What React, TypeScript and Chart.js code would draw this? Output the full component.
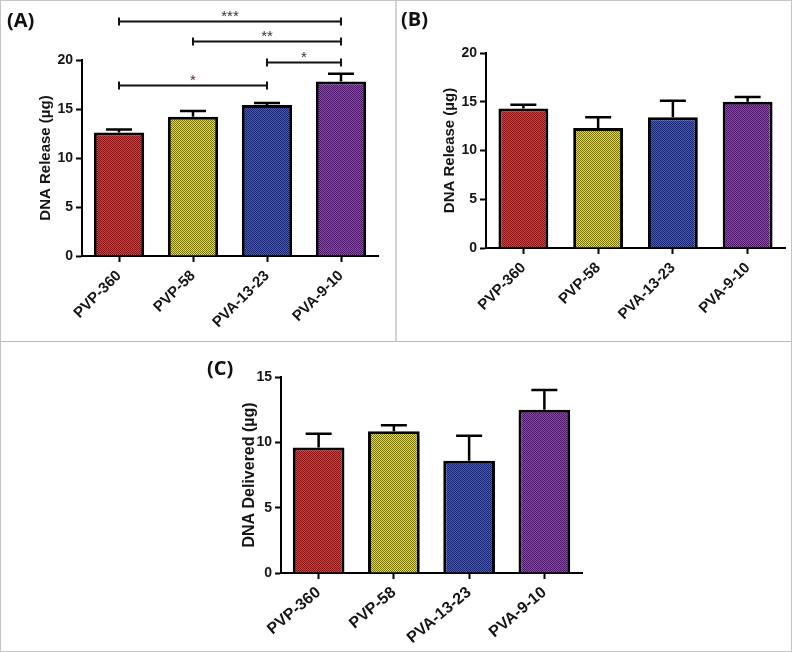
import React, { useEffect, useRef } from "react";
import { Chart, registerables } from "chart.js";

Chart.register(...registerables);

const categories = ["PVP-360", "PVP-58", "PVA-13-23", "PVA-9-10"];
const releaseA = [12.6, 14.2, 15.4, 17.8];
const errorA = [0.3, 0.6, 0.2, 0.8];
const releaseB = [14.3, 12.3, 13.4, 15.0];
const errorB = [0.4, 1.1, 1.7, 0.5];
const deliveredC = [9.6, 10.85, 8.6, 12.5];
const errorC = [1.05, 0.45, 1.9, 1.5];
const yTicksAB = [0, 5, 10, 15, 20];
const yTicksC = [0, 5, 10, 15];
const bracketFrom = [0, 1, 2, 0];
const bracketTo = [3, 3, 3, 2];
const bracketLevel = [24, 21.9, 19.8, 17.4];
const bracketLabels = ["***", "**", "*", "*"];
const bracketLabelColors = ["#333333", "#333333", "#333333", "#6b2a2a"];
const barLight = ["#d84242", "#e2da4a", "#4a5cbc", "#9048b2"];
const barDark = ["#7a1616", "#767016", "#1a2466", "#461a5e"];

const FONT = "'Liberation Sans', Arial, sans-serif";

function checker(ctx: CanvasRenderingContext2D, light: string, dark: string) {
  const c = document.createElement("canvas");
  c.width = 2;
  c.height = 2;
  const g = c.getContext("2d")!;
  g.fillStyle = light;
  g.fillRect(0, 0, 2, 2);
  g.fillStyle = dark;
  g.fillRect(0, 0, 1, 1);
  g.fillRect(1, 1, 1, 1);
  return ctx.createPattern(c, "repeat");
}

function errorBarPlugin(errors: number[]) {
  return {
    id: "errorBars",
    afterDatasetsDraw(chart: any) {
      const meta = chart.getDatasetMeta(0);
      const y = chart.scales.y;
      const ctx = chart.ctx;
      const data = chart.data.datasets[0].data as number[];
      ctx.save();
      ctx.strokeStyle = "#000";
      ctx.lineWidth = 2.5;
      meta.data.forEach((bar: any, i: number) => {
        const top = y.getPixelForValue(data[i] + errors[i]);
        ctx.beginPath();
        ctx.moveTo(bar.x, bar.y);
        ctx.lineTo(bar.x, top);
        ctx.moveTo(bar.x - 13, top);
        ctx.lineTo(bar.x + 13, top);
        ctx.stroke();
      });
      ctx.restore();
    },
  };
}

const bracketPlugin = {
  id: "brackets",
  afterDraw(chart: any) {
    const x = chart.scales.x;
    const y = chart.scales.y;
    const ctx = chart.ctx;
    ctx.save();
    bracketLevel.forEach((lv, i) => {
      const x1 = x.getPixelForValue(bracketFrom[i]);
      const x2 = x.getPixelForValue(bracketTo[i]);
      const py = Math.round(y.getPixelForValue(lv)) + 0.5;
      ctx.strokeStyle = "#111";
      ctx.lineWidth = 2;
      ctx.beginPath();
      ctx.moveTo(x1, py);
      ctx.lineTo(x2, py);
      ctx.moveTo(x1, py - 4);
      ctx.lineTo(x1, py + 4);
      ctx.moveTo(x2, py - 4);
      ctx.lineTo(x2, py + 4);
      ctx.stroke();
      ctx.fillStyle = bracketLabelColors[i];
      ctx.font = `15px ${FONT}`;
      ctx.textAlign = "center";
      ctx.textBaseline = "alphabetic";
      ctx.fillText(bracketLabels[i], (x1 + x2) / 2, py - 1);
    });
    ctx.restore();
  },
};

type Geo = {
  w: number;
  h: number;
  left: number;
  right: number;
  top: number;
  bottom: number;
  titlePad: number;
  titleFont: number;
  barPct: number;
  rot: number;
  xFont: number;
  xPad: number;
};

function ChartPanel(props: {
  values: number[];
  errors: number[];
  yMax: number;
  ticks: number[];
  title: string;
  geo: Geo;
  brackets?: boolean;
  style: React.CSSProperties;
}) {
  const ref = useRef<HTMLCanvasElement | null>(null);
  useEffect(() => {
    const canvas = ref.current!;
    const ctx = canvas.getContext("2d")!;
    const g = props.geo;
    const patterns = barLight.map((l, i) => checker(ctx, l, barDark[i]));
    const plugins: any[] = [errorBarPlugin(props.errors)];
    if (props.brackets) plugins.push(bracketPlugin);
    const chart = new Chart(canvas, {
      type: "bar",
      data: {
        labels: categories,
        datasets: [
          {
            data: props.values,
            backgroundColor: patterns as any,
            borderColor: "#000",
            borderWidth: 3,
            borderSkipped: "start",
            barPercentage: g.barPct,
            categoryPercentage: 1,
          },
        ],
      },
      options: {
        responsive: false,
        animation: false,
        devicePixelRatio: 1,
        layout: { padding: { left: 0, right: g.w - g.right, top: g.top, bottom: 0 } },
        plugins: { legend: { display: false }, tooltip: { enabled: false } },
        scales: {
          x: {
            afterFit: (s: any) => {
              s.height = g.h - g.bottom;
            },
            grid: {
              offset: false,
              drawOnChartArea: false,
              drawTicks: true,
              tickLength: 6,
              tickWidth: 2,
              tickColor: "#000",
            },
            border: { display: true, color: "#000", width: 2 },
            ticks: {
              color: "#151515",
              font: { family: FONT, size: g.xFont, weight: "bold" },
              minRotation: g.rot,
              maxRotation: g.rot,
              padding: g.xPad,
              autoSkip: false,
            },
          },
          y: {
            min: 0,
            max: props.yMax,
            afterFit: (s: any) => {
              s.width = g.left;
            },
            afterBuildTicks: (s: any) => {
              s.ticks = props.ticks.map((v) => ({ value: v }));
            },
            grid: {
              drawOnChartArea: false,
              drawTicks: true,
              tickLength: 6,
              tickWidth: 2,
              tickColor: "#000",
            },
            border: { display: true, color: "#000", width: 2 },
            ticks: {
              color: "#151515",
              font: { family: FONT, size: 14, weight: "bold" },
              padding: 3,
            },
            title: {
              display: true,
              text: props.title,
              color: "#151515",
              font: { family: FONT, size: g.titleFont, weight: "bold" },
              padding: { top: g.titlePad, bottom: 0 },
            },
          },
        },
      },
      plugins,
    });
    return () => chart.destroy();
  }, []);
  return (
    <canvas
      ref={ref}
      width={props.geo.w}
      height={props.geo.h}
      style={{ position: "absolute", width: props.geo.w, height: props.geo.h, ...props.style }}
    />
  );
}

const panelLabel: React.CSSProperties = {
  position: "absolute",
  fontFamily: "'Open Sans', sans-serif",
  fontWeight: 700,
  fontSize: 20,
  lineHeight: "20px",
  color: "#111",
};

export default function App() {
  return (
    <div
      style={{
        position: "absolute",
        left: 0,
        top: 0,
        width: 792,
        height: 652,
        background: "#fff",
        overflow: "hidden",
      }}
    >
      <ChartPanel
        values={releaseA}
        errors={errorA}
        yMax={20}
        ticks={yTicksAB}
        title="DNA Release (µg)"
        brackets
        geo={{ w: 395, h: 340, left: 82, right: 378, top: 60, bottom: 256, titlePad: 37, titleFont: 15, barPct: 0.68, rot: 45, xFont: 15, xPad: 5 }}
        style={{ left: 0, top: 0 }}
      />
      <ChartPanel
        values={releaseB}
        errors={errorB}
        yMax={20}
        ticks={yTicksAB}
        title="DNA Release (µg)"
        geo={{ w: 396, h: 340, left: 90, right: 389, top: 53, bottom: 248, titlePad: 45, titleFont: 15, barPct: 0.667, rot: 45, xFont: 15, xPad: 5 }}
        style={{ left: 396, top: 0 }}
      />
      <ChartPanel
        values={deliveredC}
        errors={errorC}
        yMax={15}
        ticks={yTicksC}
        title="DNA Delivered (µg)"
        geo={{ w: 792, h: 309, left: 281, right: 582, top: 35, bottom: 231, titlePad: 240, titleFont: 16, barPct: 0.687, rot: 40, xFont: 16, xPad: 4 }}
        style={{ left: 0, top: 342 }}
      />
      <div style={{ ...panelLabel, left: 7, top: 10 }}>(A)</div>
      <div style={{ ...panelLabel, left: 401, top: 9 }}>(B)</div>
      <div style={{ ...panelLabel, left: 207, top: 358 }}>(C)</div>
      <div style={{ position: "absolute", left: 395, top: 0, width: 2, height: 341, background: "#d4d4d4" }} />
      <div style={{ position: "absolute", left: 0, top: 341, width: 792, height: 1, background: "#b8b8b8" }} />
      <div
        style={{
          position: "absolute",
          left: 0,
          top: 0,
          width: 790,
          height: 650,
          border: "1px solid #c4c4c4",
          pointerEvents: "none",
        }}
      />
    </div>
  );
}
